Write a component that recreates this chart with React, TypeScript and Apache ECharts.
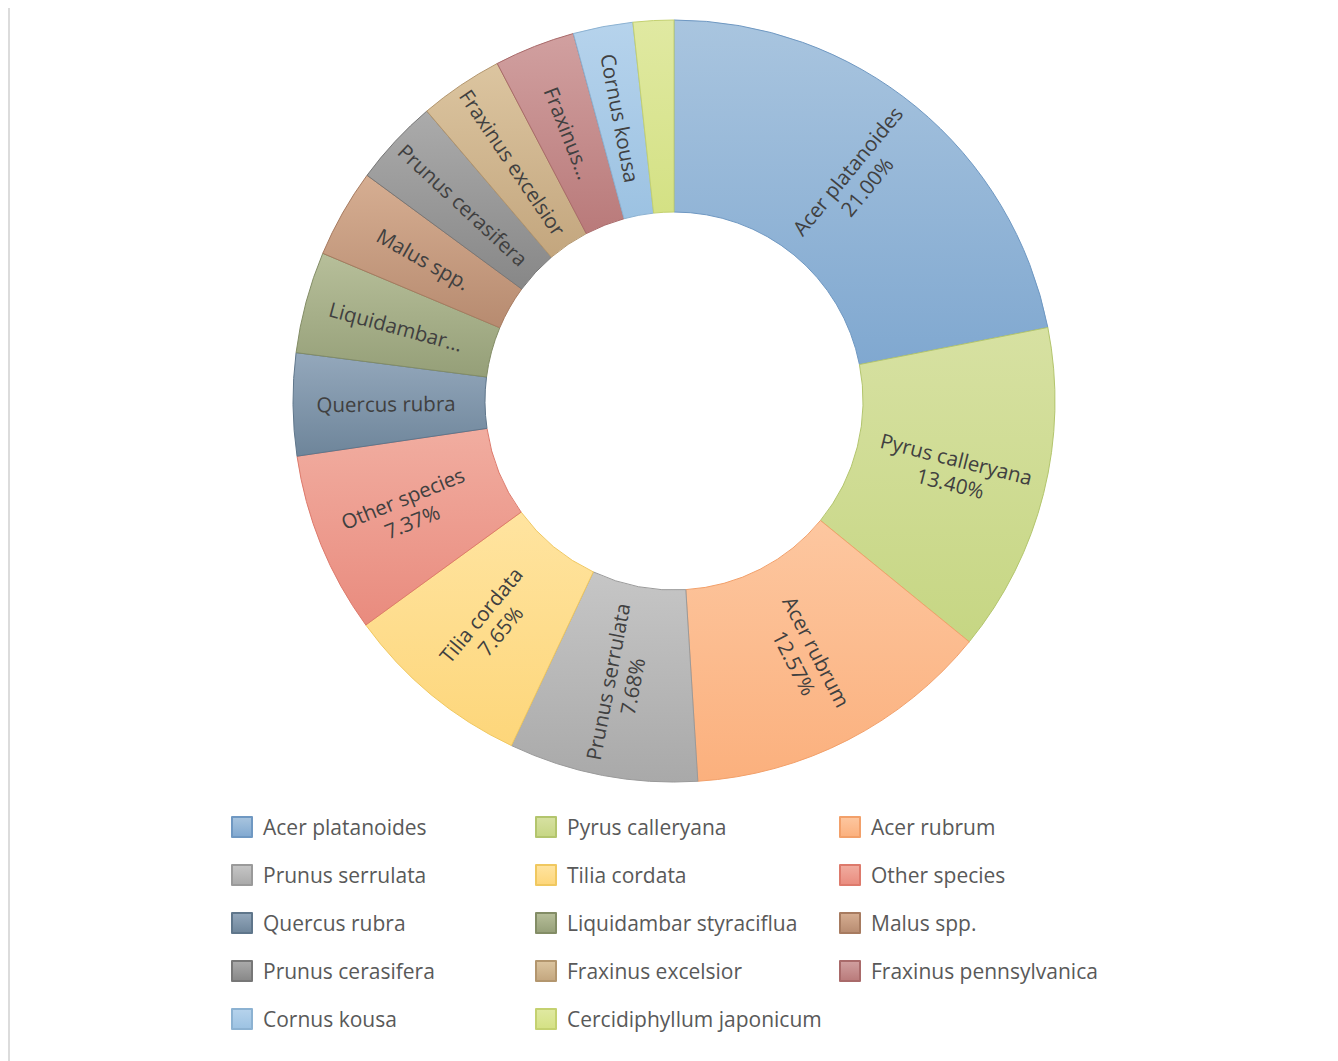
import React, { useEffect, useRef } from "react";
import * as echarts from "echarts";

const species = [
  "Acer platanoides",
  "Pyrus calleryana",
  "Acer rubrum",
  "Prunus serrulata",
  "Tilia cordata",
  "Other species",
  "Quercus rubra",
  "Liquidambar styraciflua",
  "Malus spp.",
  "Prunus cerasifera",
  "Fraxinus excelsior",
  "Fraxinus pennsylvanica",
  "Cornus kousa",
  "Cercidiphyllum japonicum",
];

// share of trees (%), as labelled /
const shares = [21.0, 13.4, 12.57, 7.68, 7.65, 7.37, 4.16, 4.13, 3.6, 3.52, 3.41, 3.28, 2.43, 1.65];

// text shown inside each slice (truncated as in the original)
const sliceNames = [
  "Acer platanoides",
  "Pyrus calleryana",
  "Acer rubrum",
  "Prunus serrulata",
  "Tilia cordata",
  "Other species",
  "Quercus rubra",
  "Liquidambar…",
  "Malus spp.",
  "Prunus cerasifera",
  "Fraxinus excelsior",
  "Fraxinus…",
  "Cornus kousa",
  "",
];
const showPercent = [true, true, true, true, true, true, false, false, false, false, false, false, false, false];

const topColors = ["#a9c5df", "#d7e1a2", "#fdc7a0", "#c6c6c6", "#ffe4a0", "#f1ada0", "#94a8bc", "#b7bf9a", "#d6ae92", "#ababab", "#dcc5a0", "#d1a0a0", "#b6d3ec", "#e0e9a2"];
const bottomColors = ["#80a8d0", "#c6d683", "#fbb07d", "#a9a9a9", "#fdd67a", "#e98b7e", "#6e859a", "#959f78", "#b78b70", "#878787", "#c3a67e", "#b97a7a", "#9cc2e2", "#d4e184"];
const edgeColors = ["#6f98c2", "#b3c56d", "#f2a06a", "#9a9a9a", "#f0c860", "#dd7a6c", "#5f768b", "#838d66", "#a77b60", "#777777", "#b3966e", "#a96a6a", "#8cb2d2", "#c4d170"];

const legendColumns = [
  [0, 3, 6, 9, 12],
  [1, 4, 7, 10, 13],
  [2, 5, 8, 11],
];
const legendLefts = [216, 520, 824];

const FONT = "'Open Sans', 'Noto Sans', sans-serif";

export default function App() {
  const ref = useRef<HTMLDivElement>(null);

  useEffect(() => {
    if (!ref.current) return;
    const chart = echarts.init(ref.current, null, { renderer: "svg" });

    const data = species.map((name, i) => ({
      name,
      value: shares[i],
      itemStyle: {
        color: new echarts.graphic.LinearGradient(0, 0, 0, 1, [
          { offset: 0, color: topColors[i] },
          { offset: 1, color: bottomColors[i] },
        ]),
        borderColor: edgeColors[i],
        borderWidth: 1,
      },
    }));

    chart.setOption({
      animation: false,
      backgroundColor: "#ffffff",
      legend: legendColumns.map((col, k) => ({
        orient: "vertical",
        left: legendLefts[k],
        top: 803,
        itemWidth: 20,
        itemHeight: 20,
        itemGap: 26,
        selectedMode: false,
        icon: "rect",
        data: col.map((i) => species[i]),
        textStyle: {
          fontFamily: FONT,
          fontSize: 21,
          color: "#595959",
          lineHeight: 22,
          padding: [0, 0, 0, 6],
        },
      })),
      series: [
        {
          type: "pie",
          center: [664, 393],
          radius: [189, 381],
          startAngle: 90,
          clockwise: true,
          avoidLabelOverlap: false,
          data,
          label: {
            show: true,
            position: "inside",
            rotate: "radial",
            fontFamily: FONT,
            fontSize: 20.5,
            lineHeight: 25,
            color: "#404040",
            formatter: (p: any) => {
              const i = p.dataIndex;
              const nm = sliceNames[i];
              if (!nm) return "";
              return showPercent[i] ? `${nm}\n${shares[i].toFixed(2)}%` : nm;
            },
          },
          labelLine: { show: false },
          emphasis: { disabled: true },
        },
      ],
    });

    return () => chart.dispose();
  }, []);

  return (
    <div
      style={{
        marginTop: -1,
        width: 1330,
        height: 1054,
        borderLeft: "2px solid #dcdcdc",
        borderTop: "1px solid #dcdcdc",
        boxSizing: "border-box",
      }}
    >
      <div ref={ref} style={{ width: 1328, height: 1053 }} />
    </div>
  );
}
